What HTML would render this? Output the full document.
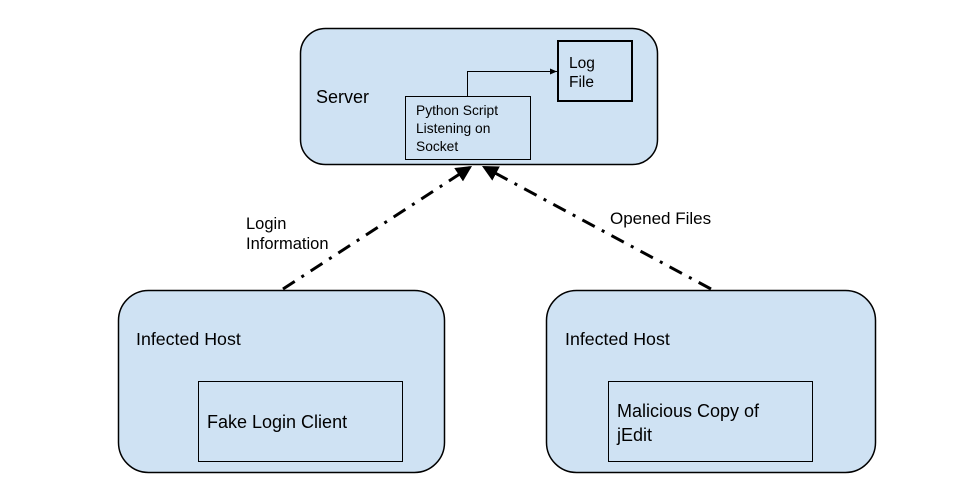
<!DOCTYPE html>
<html><head><style>
body{margin:0;background:#fff;width:958px;height:491px;overflow:hidden}
svg text{font-family:"Liberation Sans",Arial,sans-serif;fill:#000}
</style></head><body>
<svg width="958" height="491" viewBox="0 0 958 491" xmlns="http://www.w3.org/2000/svg">
<defs>
<marker id="a" markerWidth="8" markerHeight="8" refX="7" refY="4" orient="auto" markerUnits="userSpaceOnUse"><path d="M0,1 L7,4 L0,7 z" fill="#000"/></marker>
<marker id="b" markerWidth="20" markerHeight="20" refX="16" refY="8" orient="auto" markerUnits="userSpaceOnUse"><path d="M0,0 L16,8 L0,16 z" fill="#000"/></marker>
</defs>
<rect x="300.5" y="28.5" width="357" height="136" rx="25" fill="#cfe2f3" stroke="#000" stroke-width="1.5"/>
<rect x="118.5" y="290.5" width="326" height="182" rx="30" fill="#cfe2f3" stroke="#000" stroke-width="1.5"/>
<rect x="546.5" y="290.5" width="329" height="182" rx="30" fill="#cfe2f3" stroke="#000" stroke-width="1.5"/>
<rect x="558" y="41" width="74" height="60" fill="#cfe2f3" stroke="#000" stroke-width="2"/>
<rect x="405.5" y="96.5" width="125" height="63" fill="#cfe2f3" stroke="#000" stroke-width="1"/>
<rect x="198.5" y="381.5" width="204" height="80" fill="#cfe2f3" stroke="#000" stroke-width="1"/>
<rect x="608.5" y="381.5" width="204" height="80" fill="#cfe2f3" stroke="#000" stroke-width="1"/>
<path d="M467.5,96 V71.5 H557" fill="none" stroke="#000" stroke-width="1" marker-end="url(#a)"/>
<line x1="283" y1="289" x2="472" y2="166" stroke="#000" stroke-width="3" stroke-dasharray="14,8,3,8" marker-end="url(#b)"/>
<line x1="711" y1="289" x2="482" y2="166" stroke="#000" stroke-width="3" stroke-dasharray="14,8,3,8" marker-end="url(#b)"/>
<text x="316" y="103" font-size="18">Server</text>
<text x="569" y="68" font-size="15.5">Log</text>
<text x="569" y="87" font-size="15.5">File</text>
<text x="416" y="115" font-size="13.8">Python Script</text>
<text x="416" y="133" font-size="13.8">Listening on</text>
<text x="416" y="151" font-size="13.8">Socket</text>
<text x="246" y="229" font-size="16.5">Login</text>
<text x="246" y="249" font-size="16.5">Information</text>
<text x="610" y="224" font-size="17">Opened Files</text>
<text x="136" y="345" font-size="17.8">Infected Host</text>
<text x="565" y="345" font-size="17.8">Infected Host</text>
<text x="207" y="428" font-size="18">Fake Login Client</text>
<text x="617" y="417" font-size="18">Malicious Copy of</text>
<text x="617" y="441" font-size="18">jEdit</text>
</svg>
</body></html>
